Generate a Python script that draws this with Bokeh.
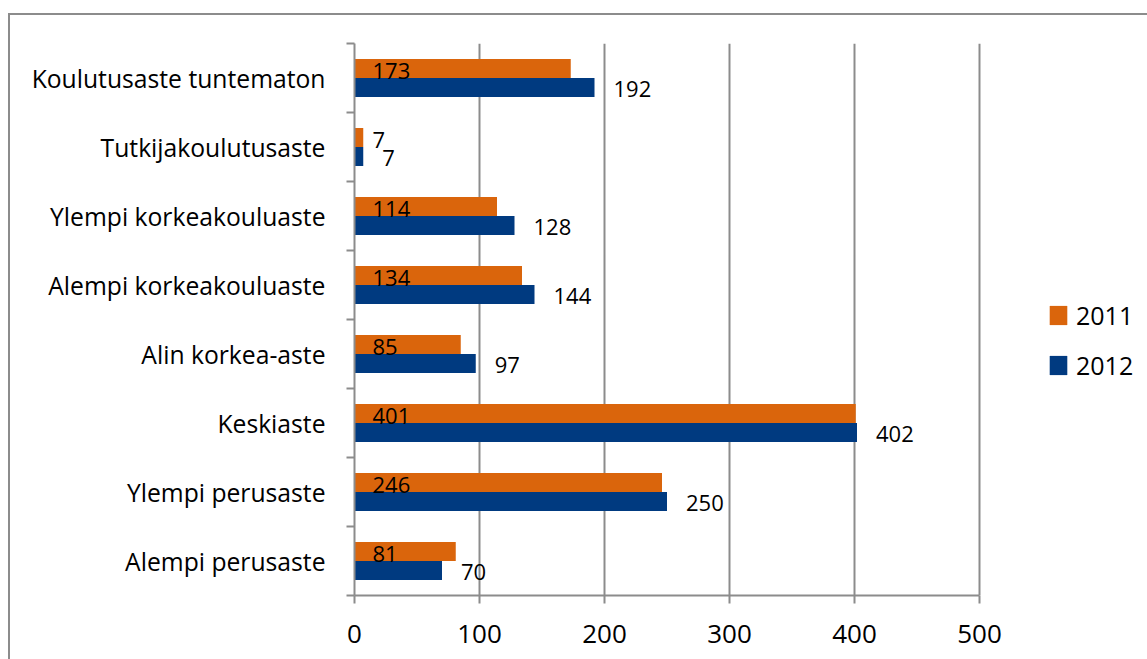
from bokeh.plotting import figure
from bokeh.models import (ColumnDataSource, FixedTicker, LabelSet, Legend,
                          LegendItem, InlineStyleSheet)
from bokeh.core.properties import value
from bokeh.embed import file_html
from bokeh.resources import INLINE

# ---- data (bottom to top) ----
categories = ["Alempi perusaste", "Ylempi perusaste", "Keskiaste",
              "Alin korkea-aste", "Alempi korkeakouluaste",
              "Ylempi korkeakouluaste", "Tutkijakoulutusaste",
              "Koulutusaste tuntematon"]
values_2011 = [81, 246, 401, 85, 134, 114, 7, 173]
values_2012 = [70, 250, 402, 97, 144, 128, 7, 192]
series = ["2011", "2012"]
x_ticks = [0, 100, 200, 300, 400, 500]

FONT = "Open Sans"
ORANGE = "#DA650C"
BLUE = "#003A80"
GRAY = "#8C8C8C"

W, H = 1147, 659
LEFT, TOP, BOTTOM = 354, 43, 64
AXIS_PX = 625            # pixels covered by the 0..500 axis
XMAX = x_ticks[-1] * (W - LEFT) / AXIS_PX   # frame extends under the legend

n = len(categories)
idx = list(range(n))
bar_h = 19 / 69

src = ColumnDataSource(dict(
    cat=categories,
    y11=[i + bar_h / 2 for i in idx],
    y12=[i - bar_h / 2 for i in idx],
    v11=values_2011,
    v12=values_2012,
    zero=[0] * n,
    t11=[str(v) for v in values_2011],
    t12=[str(v) for v in values_2012],
))

p = figure(width=W, height=H, x_range=(0, XMAX), y_range=(-0.5, n - 0.5),
           output_backend="svg", toolbar_location=None,
           min_border_left=LEFT, min_border_right=0,
           min_border_top=TOP, min_border_bottom=BOTTOM)
p.outline_line_color = None
p.background_fill_color = "white"
p.border_fill_color = "white"

# x axis
p.xaxis.ticker = FixedTicker(ticks=x_ticks)
p.xaxis.bounds = (x_ticks[0], x_ticks[-1])
p.xaxis.axis_line_color = GRAY
p.xaxis.axis_line_width = 2
p.xaxis.major_tick_line_color = GRAY
p.xaxis.major_tick_line_width = 2
p.xaxis.major_tick_out = 8
p.xaxis.major_tick_in = 0
p.xaxis.minor_tick_line_color = None
p.xaxis.major_label_text_font = FONT
p.xaxis.major_label_text_font_size = "26px"
p.xaxis.major_label_text_color = "black"
p.xaxis.major_label_standoff = 21

# y axis with ticks at category boundaries
p.yaxis.ticker = FixedTicker(ticks=idx, minor_ticks=[i - 0.5 for i in range(n + 1)])
p.yaxis.major_label_overrides = {i: c for i, c in zip(idx, categories)}
p.yaxis.axis_line_color = GRAY
p.yaxis.axis_line_width = 2
p.yaxis.major_tick_line_color = None
p.yaxis.major_tick_out = 0
p.yaxis.major_tick_in = 0
p.yaxis.minor_tick_line_color = GRAY
p.yaxis.minor_tick_line_width = 2
p.yaxis.minor_tick_out = 8
p.yaxis.minor_tick_in = 0
p.yaxis.major_label_text_font = FONT
p.yaxis.major_label_text_font_size = "24.7px"
p.yaxis.major_label_text_color = "black"
p.yaxis.major_label_standoff = 21

p.xgrid.ticker = FixedTicker(ticks=x_ticks)
p.xgrid.grid_line_color = GRAY
p.xgrid.grid_line_width = 2
p.ygrid.grid_line_color = None

r11 = p.hbar(y="y11", left=0, right="v11", height=bar_h, source=src,
             fill_color=ORANGE, line_color=None)
r12 = p.hbar(y="y12", left=0, right="v12", height=bar_h, source=src,
             fill_color=BLUE, line_color=None)

lab11 = LabelSet(x="zero", y="y11", text="t11", source=src, x_offset=18, y_offset=-2,
                 text_align="left", text_baseline="middle",
                 text_font=value(FONT), text_font_size="22px", text_color="black")
lab12 = LabelSet(x="v12", y="y12", text="t12", source=src, x_offset=19, y_offset=-1,
                 text_align="left", text_baseline="middle",
                 text_font=value(FONT), text_font_size="22px", text_color="black")
p.add_layout(lab11)
p.add_layout(lab12)

legend = Legend(items=[LegendItem(label=series[0], renderers=[r11]),
                       LegendItem(label=series[1], renderers=[r12])],
                location=(693, 213), orientation="vertical",
                glyph_width=22, glyph_height=24, label_height=24,
                label_standoff=7, spacing=16, padding=0, margin=0,
                border_line_color=None, background_fill_alpha=0,
                label_text_font=FONT, label_text_font_size="25px",
                label_text_color="black")
p.add_layout(legend, "center")

# outer chart border (only its top and left edges fall inside the window)
p.stylesheets = [InlineStyleSheet(css="""
:host { position: relative; }
:host::after {
  content: ''; position: absolute; left: 8px; top: 13px; right: 0; bottom: 0;
  border-left: 2px solid #8C8C8C; border-top: 2px solid #8C8C8C;
  pointer-events: none;
}
""")]

open("out.html", "w").write(file_html(p, INLINE))
